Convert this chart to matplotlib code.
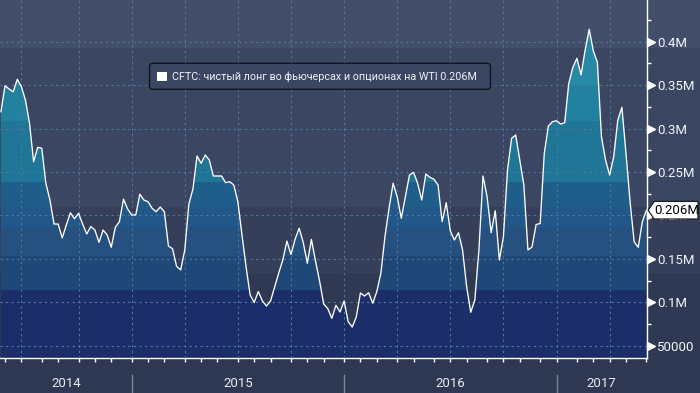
import numpy as np
import pandas as pd
import matplotlib
matplotlib.use('Agg')
import matplotlib.pyplot as plt
import matplotlib.dates as mdates
import matplotlib.transforms as mtransforms
from matplotlib.patches import Polygon, FancyBboxPatch, Rectangle
from matplotlib.ticker import FixedLocator, FuncFormatter, NullFormatter

# ---------------- data ----------------
start_date = '2014-05-27'   # weekly (Tuesday) CFTC observations
net_long_k = [  # thousand contracts
    319.4, 349.3, 345.5, 342.4, 356.7, 348.2, 332.9, 306.1, 261.8, 278.4,
    277.3, 237.0, 217.7, 190.1, 190.1, 174.0, 188.9, 203.1, 196.1, 202.4,
    190.1, 178.6, 187.2, 183.2, 169.0, 183.2, 177.5, 163.3, 186.3, 192.8,
    218.7, 207.4, 200.5, 200.5, 224.4, 217.7, 215.8, 208.2, 204.3, 209.7,
    204.3, 164.8, 161.7, 141.4, 137.2, 160.2, 213.1, 230.4, 268.4, 260.0,
    269.6, 263.8, 245.4, 245.4, 245.4, 237.7, 238.8, 235.0, 215.8, 177.5,
    141.0, 108.4, 99.7, 112.4, 101.5, 95.7, 101.5, 117.6, 133.7, 148.7,
    170.5, 155.0, 172.5, 185.2, 168.8, 144.9, 172.5, 147.5, 124.5, 98.0,
    92.7, 81.6, 96.5, 88.8, 101.5, 77.6, 71.5, 83.4, 110.7, 107.2,
    111.0, 98.8, 112.2, 133.4, 175.5, 208.2, 237.0, 221.5, 196.7, 221.5,
    246.5, 249.6, 237.0, 217.7, 247.7, 243.9, 241.6, 235.0, 192.8, 214.6,
    182.1, 171.7, 180.1, 160.2, 117.9, 88.5, 102.6, 160.2, 245.4, 221.5,
    180.1, 205.4, 148.7, 175.5, 252.3, 288.8, 292.6, 263.8, 235.0, 160.2,
    163.6, 189.5, 190.7, 271.5, 302.9, 307.9, 309.0, 305.2, 306.7, 352.1,
    370.5, 380.9, 361.7, 390.4, 414.3, 389.6, 376.3, 290.6, 263.8, 246.5,
    267.6, 309.9, 324.5, 271.5, 215.8, 169.7, 163.3, 192.8, 206.0,
]
y_ticks = [50, 100, 150, 200, 250, 300, 350, 400]
year_labels = ['2014', '2015', '2016', '2017']
legend_label = 'CFTC: чистый лонг во фьючерсах и опционах на WTI'
last_label = '0.206M'

# ---------------- style ----------------
plt.rcParams['font.family'] = ['Roboto', 'DejaVu Sans']
plt.rcParams['lines.scale_dashes'] = False

W, H = 700, 393
PLOT_R = 646.7      # px, right spine
PLOT_B = 357.7      # px from top, bottom spine
YLIM = (36.2, 448.0)
GRID_C = '#4b7ba0'
DASH = (1.6, 2.4)

bg_bands = [(0, 134, '#2f3954'), (134, 210, '#353f5a'),
            (210, 393, '#3b4663'), (393, 600, '#434e6a')]
fill_edges = [0, 114, 153, 187, 210, 239, 309, 350, 600]
fill_colors = ['#1c2e6a', '#1f4879', '#25507f', '#22578a',
               '#1f5e8a', '#1f7697', '#2381a0', '#2789a5']

fig = plt.figure(figsize=(W / 100, H / 100), dpi=100, facecolor='#2e3852')
bg = fig.add_axes([0, (H - PLOT_B) / H, 1, PLOT_B / H], zorder=0)
ax = fig.add_axes([0, (H - PLOT_B) / H, PLOT_R / W, PLOT_B / H], zorder=1)

bg.set_ylim(*YLIM)
bg.set_xlim(0, 1)
bg.axis('off')
for lo, hi, c in bg_bands:
    bg.axhspan(lo, hi, facecolor=c, edgecolor='none')

ax.patch.set_visible(False)
dates = pd.date_range(start_date, periods=len(net_long_k), freq='7D')
x = mdates.date2num(dates.to_pydatetime())
vals = np.array(net_long_k)

ax.set_xlim(x[0] - 1.6, x[-1] + 0.5)
ax.set_ylim(*YLIM)

# banded area fill
poly = ax.fill_between(x, 0, vals, facecolor='none', edgecolor='none')
clip_path = poly.get_paths()[0]
for lo, hi, c in zip(fill_edges[:-1], fill_edges[1:], fill_colors):
    r = ax.axhspan(lo, hi, facecolor=c, edgecolor='none', zorder=1)
    r.set_clip_path(clip_path, ax.transData)

ax.plot(x, vals, color='white', lw=0.95, zorder=4)

# month / quarter / year positions
d = pd.Series(dates)
new_month = (d.dt.month != d.dt.month.shift()).values
new_month[0] = False
month_x = x[new_month]
month_m = d.dt.month.values[new_month]
quarter_x = month_x[np.isin(month_m, [1, 4, 7, 10])]
year_x = month_x[month_m == 1]

# grid
for v in y_ticks:
    ax.axhline(v, color=GRID_C, lw=0.8, dashes=DASH, zorder=3)
for q in quarter_x:
    ax.axvline(q, color=GRID_C, lw=0.8, dashes=DASH, zorder=3)

# spines
for s in ['left', 'top']:
    ax.spines[s].set_visible(False)
ax.spines['right'].set_color('white')
ax.spines['bottom'].set_color('white')
ax.spines['right'].set_linewidth(1.0)
ax.spines['bottom'].set_linewidth(1.0)

# x ticks
ax.xaxis.set_major_locator(FixedLocator(month_x))
ax.xaxis.set_major_formatter(NullFormatter())
ax.tick_params(axis='x', which='major', direction='out', length=3.2,
               width=1, color='white')

# y ticks
ax.yaxis.tick_right()
ax.yaxis.set_major_locator(FixedLocator(y_ticks))
ax.yaxis.set_minor_locator(FixedLocator(np.arange(75, 450, 50)))
ax.yaxis.set_major_formatter(FuncFormatter(
    lambda v, p: '50000' if v == 50 else f'{v / 1000:g}M'))
ax.tick_params(axis='y', which='major', length=0, pad=7.3,
               labelsize=9.5, labelcolor='#f2f4f8')
ax.tick_params(axis='y', which='minor', length=3.2, width=1,
               color='white', direction='out')

blend = mtransforms.blended_transform_factory(ax.transAxes, ax.transData)
tri_t = mtransforms.offset_copy(blend, fig=fig, x=4.5, y=0, units='dots')
for v in y_ticks:
    ax.plot([1.0], [v], marker='>', markersize=5.2, color='white',
            transform=tri_t, clip_on=False, zorder=5, lw=0)

# year separators & labels
bx = mtransforms.blended_transform_factory(ax.transData, ax.transAxes)
sep_top = -(375 - PLOT_B) / PLOT_B
sep_bot = -(H - PLOT_B) / PLOT_B
lab_y = -(383.5 - PLOT_B) / PLOT_B
for xs in year_x:
    ax.plot([xs, xs], [sep_top, sep_bot], transform=bx, color='#7c869a',
            lw=1, clip_on=False)
bounds = [ax.get_xlim()[0]] + list(year_x) + [ax.get_xlim()[1]]
for i, lab in enumerate(year_labels):
    ax.text((bounds[i] + bounds[i + 1]) / 2, lab_y, lab, transform=bx,
            ha='center', va='center', fontsize=9.5, color='#e8ecf2')

# last value label
ident = mtransforms.IdentityTransform()
xs_px = ax.transAxes.transform((1, 0))[0]
yv_px = ax.transData.transform((x[-1], vals[-1]))[1]
hh = 8.8
lbl = Polygon([(xs_px + 1.5, yv_px), (xs_px + 7.5, yv_px + hh),
               (W - 2, yv_px + hh), (W - 2, yv_px - hh),
               (xs_px + 7.5, yv_px - hh)], closed=True,
              facecolor='white', edgecolor='#1a1d24', lw=0.9,
              transform=ident, zorder=10)
fig.add_artist(lbl)
fig.text(677, yv_px, last_label, transform=ident, ha='center', va='center',
         fontsize=9.5, color='black', zorder=11)

# legend
leg = FancyBboxPatch((152.5, H - 86.3), 335, 20,
                     boxstyle='round,pad=3,rounding_size=3.5',
                     facecolor='#3b4663', edgecolor='#12151c', lw=1.0,
                     transform=ident, zorder=10)
fig.add_artist(leg)
fig.add_artist(Rectangle((157, H - 81), 9.5, 9.5, facecolor='white',
                         edgecolor='none', transform=ident, zorder=11))
fig.text(172, H - 76.5, f'{legend_label} {last_label}', transform=ident,
         ha='left', va='center', fontsize=7.75, color='#eef2f7', zorder=11)

fig.savefig('out.png', dpi=100, facecolor=fig.get_facecolor())
